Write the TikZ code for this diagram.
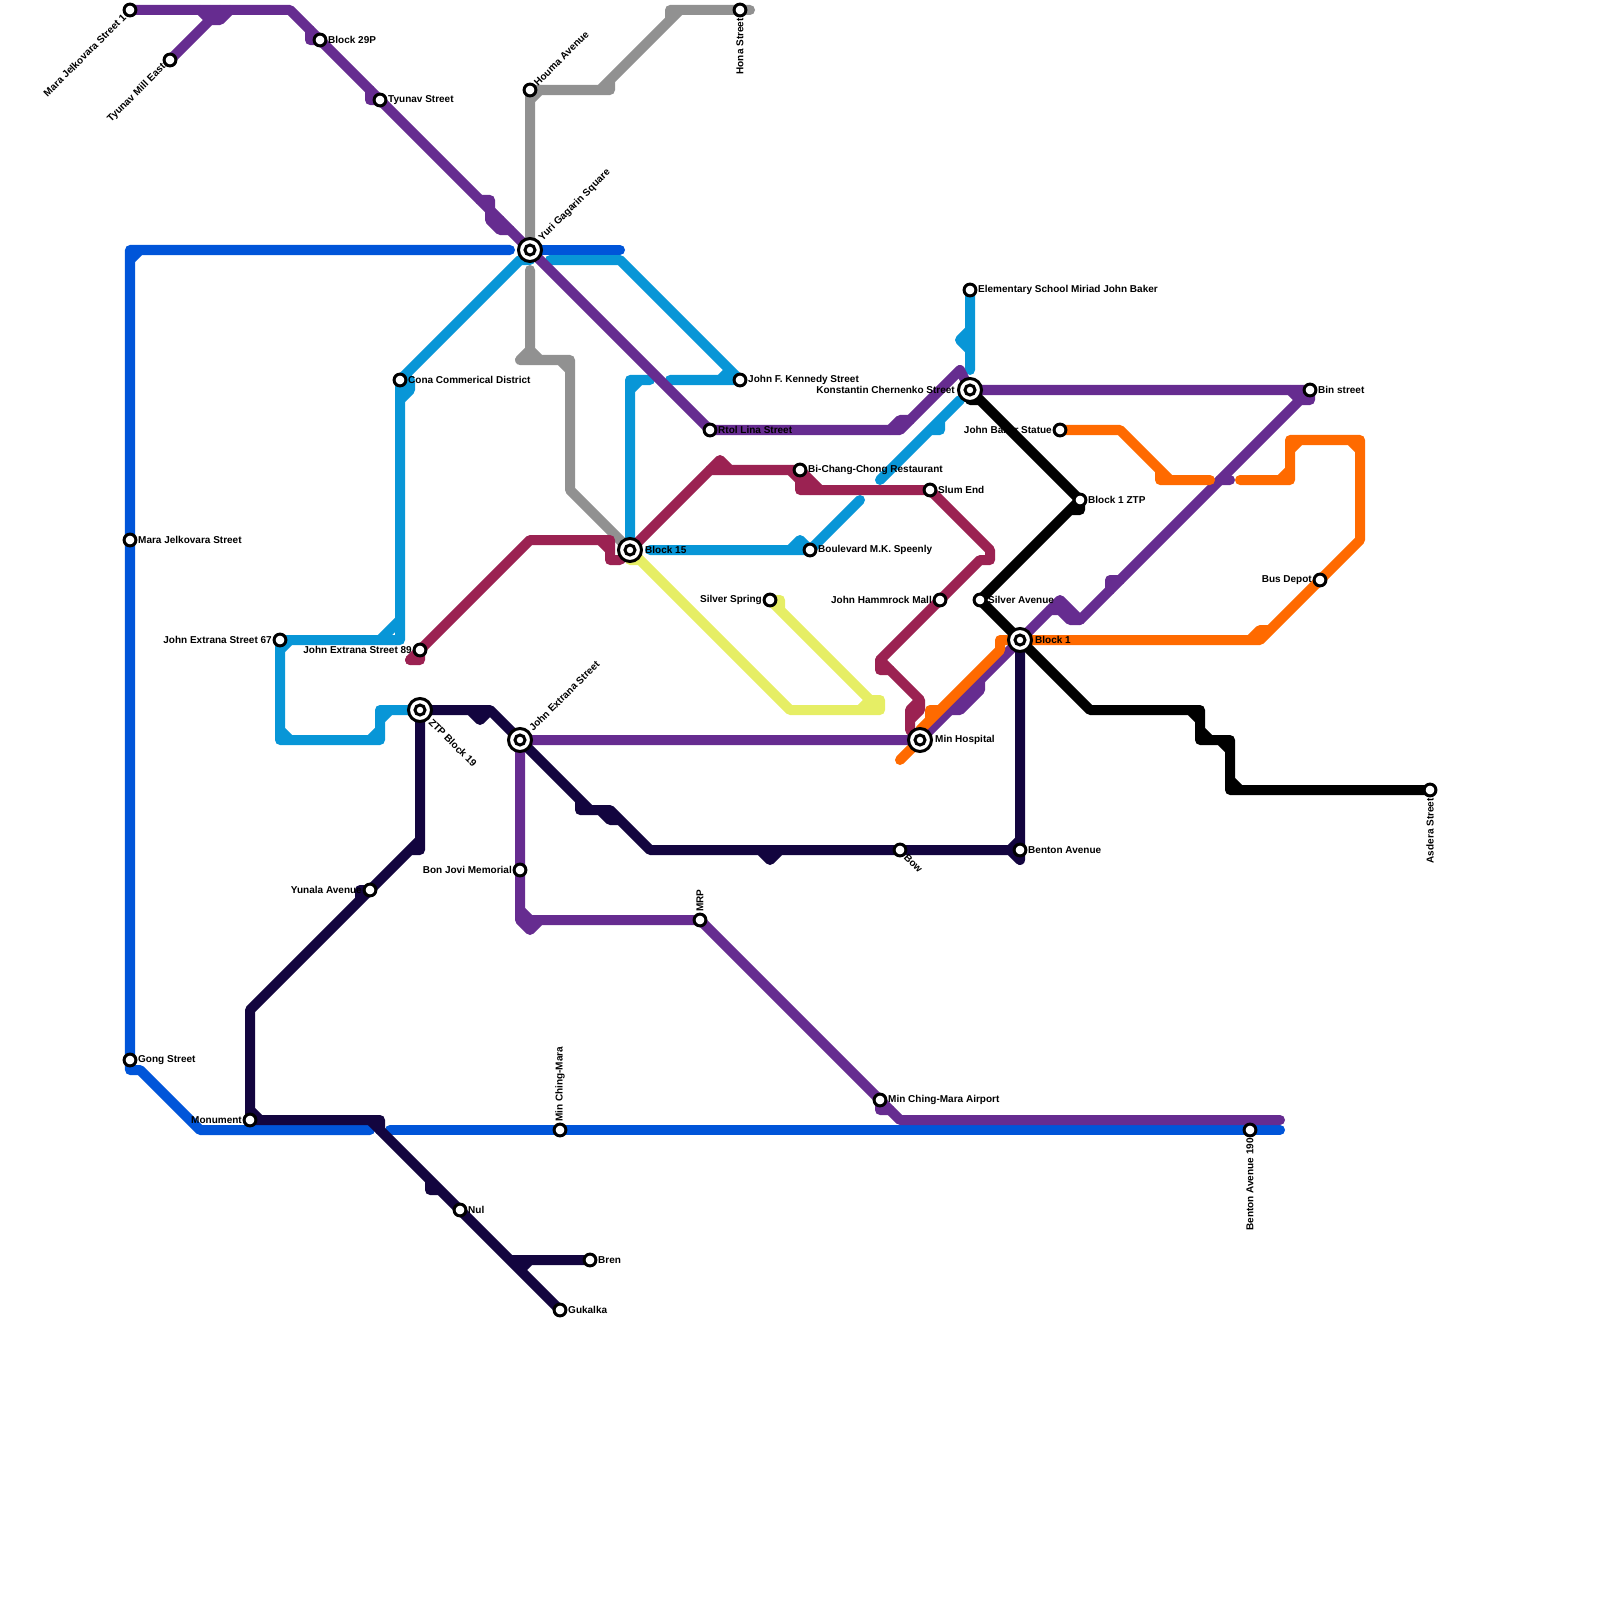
\documentclass[tikz,border=0pt]{standalone}
\usepackage{fontspec}
\setmainfont{Liberation Sans}
\usetikzlibrary{backgrounds}
\definecolor{metropurple}{HTML}{662C90}
\definecolor{metrocyan}{HTML}{0896D7}
\definecolor{metroblue}{HTML}{0055D9}
\definecolor{metronavy}{HTML}{13053F}
\definecolor{metrogrey}{HTML}{919191}
\definecolor{metromaroon}{HTML}{9B2252}
\definecolor{metroyellow}{HTML}{E6EE65}
\definecolor{metroorange}{HTML}{FF6A00}
\tikzset{
    route/.style = {line width=.1cm, line cap=round, line join=round},
    purpleline/.style = {route, draw=metropurple},
    cyanline/.style = {route, draw=metrocyan},
    blueline/.style = {route, draw=metroblue},
    navyline/.style = {route, draw=metronavy},
    greyline/.style = {route, draw=metrogrey},
    maroonline/.style = {route, draw=metromaroon},
    yellowline/.style = {route, draw=metroyellow},
    orangeline/.style = {route, draw=metroorange},
    blackline/.style = {route, draw=black},
    stop/.style = {circle, draw=black, fill=white, line width=.03cm, inner sep=0pt, outer sep=.016cm,
                   minimum size=.118cm},
    hub/.style = {circle, draw=black, fill=white, line width=.03cm, inner sep=0pt, outer sep=.03cm,
                  minimum size=.23cm,
                  path picture={\draw[line width=.03cm] (path picture bounding box.center) circle (.05cm);}},
    stopname/.style = {font=\fontsize{2.845pt}{3.4pt}\selectfont\bfseries, inner sep=0pt, text=black},
    up45/.style = {stopname, rotate=45, anchor=west},
    down45/.style = {stopname, rotate=-45, anchor=west},
    left45/.style = {stopname, rotate=45, anchor=east},
    upright/.style = {stopname, rotate=90, anchor=west},
    downright/.style = {stopname, rotate=90, anchor=east},
}
\begin{document}
\begin{tikzpicture}[x=.01cm, y=-.01cm]
\useasboundingbox (0,0) rectangle (1600,1600);

% Stations
\node (maraone) [stop, label={[left45]225:Mara Jelkovara Street 1}] at (130,10) {};
\node (tyunavmill) [stop, label={[left45]225:Tyunav Mill East}] at (170,60) {};
\node (block29) [stop, label={[stopname]right:Block 29P}] at (320,40) {};
\node (tyunav) [stop, label={[stopname]right:Tyunav Street}] at (380,100) {};
\node (houma) [stop, label={[up45]45:Houma Avenue}] at (530,90) {};
\node (gagarin) [hub, label={[up45]45:Yuri Gagarin Square}] at (530,250) {};
\node (hona) [stop, label={[downright]below:Hona Street}] at (740,10) {};
\node (kennedy) [stop, label={[stopname]right:John F. Kennedy Street}] at (740,380) {};
\node (rtol) [stop, label={[stopname]right:Rtol Lina Street}] at (710,430) {};
\node (cona) [stop, label={[stopname]right:Cona Commerical District}] at (400,380) {};
\node (mara) [stop, label={[stopname]right:Mara Jelkovara Street}] at (130,540) {};
\node (school) [stop, label={[stopname]right:Elementary School Miriad John Baker}] at (970,290) {};
\node (chernenko) [hub, label={[stopname]left:Konstantin Chernenko Street}] at (970,390) {};
\node (bin) [stop, label={[stopname]right:Bin street}] at (1310,390) {};
\node (statue) [stop, label={[stopname]left:John Baker Statue}] at (1060,430) {};
\node (ztpone) [stop, label={[stopname]right:Block 1 ZTP}] at (1080,500) {};
\node (bichang) [stop, label={[stopname]right:Bi-Chang-Chong Restaurant}] at (800,470) {};
\node (slum) [stop, label={[stopname]right:Slum End}] at (930,490) {};
\node (blockfifteen) [hub, label={[stopname]right:Block 15}] at (630,550) {};
\node (speenly) [stop, label={[stopname]right:Boulevard M.K. Speenly}] at (810,550) {};
\node (silverspring) [stop, label={[stopname]left:Silver Spring}] at (770,600) {};
\node (hammrock) [stop, label={[stopname]left:John Hammrock Mall}] at (940,600) {};
\node (silverave) [stop, label={[stopname]right:Silver Avenue}] at (980,600) {};
\node (blockone) [hub, label={[stopname]right:Block 1}] at (1020,640) {};
\node (depot) [stop, label={[stopname]left:Bus Depot}] at (1320,580) {};
\node (extrana67) [stop, label={[stopname]left:John Extrana Street 67}] at (280,640) {};
\node (extrana89) [stop, label={[stopname]left:John Extrana Street 89}] at (420,650) {};
\node (ztp19) [hub, label={[down45]-45:ZTP Block 19}] at (420,710) {};
\node (extrana) [hub, label={[up45]45:John Extrana Street}] at (520,740) {};
\node (hospital) [hub, label={[stopname]right:Min Hospital}] at (920,740) {};
\node (benton) [stop, label={[stopname]right:Benton Avenue}] at (1020,850) {};
\node (bow) [stop, label={[down45]-45:Bow}] at (900,850) {};
\node (asdera) [stop, label={[downright]below:Asdera Street}] at (1430,790) {};
\node (yunala) [stop, label={[stopname]left:Yunala Avenue}] at (370,890) {};
\node (bonjovi) [stop, label={[stopname]left:Bon Jovi Memorial}] at (520,870) {};
\node (mrp) [stop, label={[upright]above:MRP}] at (700,920) {};
\node (airport) [stop, label={[stopname]right:Min Ching-Mara Airport}] at (880,1100) {};
\node (gong) [stop, label={[stopname]right:Gong Street}] at (130,1060) {};
\node (monument) [stop, label={[stopname]left:Monument}] at (250,1120) {};
\node (minching) [stop, label={[upright]above:Min Ching-Mara}] at (560,1130) {};
\node (benton190) [stop, label={[downright]below:Benton Avenue 190}] at (1250,1130) {};
\node (nul) [stop, label={[stopname]right:Nul}] at (460,1210) {};
\node (bren) [stop, label={[stopname]right:Bren}] at (590,1260) {};
\node (gukalka) [stop, label={[stopname]right:Gukalka}] at (560,1310) {};

% Free line ends
\coordinate (bluenorth) at (510,250);
\coordinate (blueshort) at (620,250);
\coordinate (bluesouth) at (370,1130);
\coordinate (bluerun) at (390,1130);
\coordinate (blueeast) at (1280,1130);
\coordinate (purpleeast) at (1280,1120);
\coordinate (greytop) at (750,10);
\coordinate (greylow) at (530,270);
\coordinate (cyanupper) at (550,260);
\coordinate (cyanjfk) at (670,380);
\coordinate (cyanstem) at (650,380);
\coordinate (cyanbase) at (650,550);
\coordinate (cyanspeenly) at (860,500);
\coordinate (cyandiag) at (880,480);
\coordinate (cyandiagtop) at (960,400);
\coordinate (cyanschool) at (970,370);
\coordinate (orangetail) at (900,760);
\coordinate (orangeleft) at (1210,480);
\coordinate (orangeright) at (1240,480);

\begin{scope}[on background layer]
% Lines
\draw[greyline] (gagarin.center) -- (houma.center) -- (610,90) -- (610,80)
    (530,100) -- (540,90) (600,90) -- (670,20) -- (670,10) (680,10) -- (670,20)
    (670,10) -- (hona.center) -- (greytop);
\draw[greyline] (greylow) -- (530,350) -- (520,360) -- (570,360) -- (570,490) -- (blockfifteen.center)
    (530,350) -- (540,360) (560,360) -- (570,370);

\draw[cyanline] (extrana67.center) -- (400,640) -- (cona.center) -- (520,260) -- (530,260)
    (380,640) -- (400,620) (400,400) -- (410,390) -- (410,380) -- (400,380) (280,650) -- (290,640)
    (extrana67.center) -- (280,740) -- (380,740) -- (380,710) -- (ztp19.center)
    (280,730) -- (290,740) (370,740) -- (380,730) (380,720) -- (390,710);
\draw[cyanline] (cyanupper) -- (620,260) -- (kennedy.center) -- (cyanjfk) (720,380) -- (730,370);
\draw[cyanline] (cyanstem) -- (630,380) -- (blockfifteen.center) (630,390) -- (640,380);
\draw[cyanline] (cyanbase) -- (speenly.center) -- (cyanspeenly) (790,550) -- (800,540) -- (810,550);
\draw[cyanline] (cyandiag) -- (cyandiagtop) (930,430) -- (940,430) -- (940,420);
\draw[cyanline] (school.center) -- (cyanschool) (970,330) -- (960,340) -- (970,350);

\draw[blueline] (bluenorth) -- (130,250) -- (gong.center) -- (130,1070) -- (140,1070) -- (200,1130) -- (bluesouth)
    (130,260) -- (140,250);
\draw[blueline] (gagarin.center) -- (blueshort);
\draw[blueline] (bluerun) -- (blueeast);

\draw[purpleline] (maraone.center) -- (290,10) -- (block29.center) -- (tyunav.center) -- (rtol.center)
    -- (900,430) -- (960,370) -- (chernenko.center) -- (bin.center) -- (1310,400) -- (1300,400)
    -- (1080,620) -- (1060,600) -- (blockone.center) -- (hospital.center) -- (extrana.center)
    -- (520,920) -- (530,930) -- (540,920) -- (mrp.center) -- (airport.center) -- (900,1120) -- (purpleeast);
\draw[purpleline] (tyunavmill.center) -- (220,10) (200,10) -- (210,20) -- (220,20) -- (230,10)
    (310,30) -- (310,40) -- (320,40) (370,90) -- (370,100) -- (380,100)
    (480,200) -- (490,200) -- (490,220) -- (500,230) -- (510,230) (490,220) -- (500,220)
    (890,430) -- (900,420) -- (910,420) (1290,390) -- (1300,400)
    (1220,480) -- (1230,480) (1110,590) -- (1110,580) -- (1120,580)
    (950,710) -- (960,710) -- (980,690) -- (980,680) (520,910) -- (530,920) -- (540,920)
    (880,1100) -- (880,1110) -- (890,1110)
    (1050,610) -- (1060,610) -- (1070,620) -- (1080,620);

\draw[maroonline] (410,660) -- (420,660) -- (extrana89.center) -- (530,540) -- (610,540) -- (610,560) -- (620,560)
    -- (blockfifteen.center) -- (720,460) -- (730,470) -- (bichang.center) -- (800,490) -- (slum.center)
    -- (990,550) -- (990,560) -- (980,560) -- (hammrock.center) -- (880,660) -- (880,670) -- (890,670);
\draw[maroonline] (410,660) -- (extrana89.center) (600,540) -- (610,550) (710,470) -- (730,470)
    (790,470) -- (800,480) -- (810,490) (bichang.center) -- (820,490) (800,480) -- (810,480)
    (880,660) -- (920,700) -- (920,710) -- (910,720) (920,700) -- (910,710) -- (910,730) -- (hospital.center);

\draw[yellowline] (blockfifteen.center) -- (790,710) -- (880,710) -- (880,700) -- (870,700) -- (silverspring.center)
    -- (780,600) -- (780,610) (630,560) -- (640,560) (blockfifteen.center) -- (630,560) (860,710) -- (870,700);

\draw[navyline] (ztp19.center) -- (490,710) -- (extrana.center) -- (590,810) -- (610,810) -- (650,850)
    -- (bow.center) -- (benton.center) -- (blockone.center) (benton.center) -- (1020,860) -- (1010,850) -- (1020,840)
    (470,710) -- (480,720) -- (490,710) (580,800) -- (580,810) -- (600,810) -- (610,820) -- (620,820)
    (760,850) -- (770,860) -- (780,850);
\draw[navyline] (ztp19.center) -- (420,850) -- (410,850) -- (yunala.center) -- (250,1010) -- (monument.center)
    -- (380,1120) -- (380,1130) (250,1110) -- (260,1120) (360,900) -- (360,890) -- (370,890) (410,850) -- (420,840);
\draw[navyline] (370,1120) -- (nul.center) -- (gukalka.center) (430,1180) -- (430,1190) -- (440,1190)
    (510,1260) -- (bren.center) (520,1270) -- (530,1260);

\draw[blackline] (chernenko.center) -- (ztpone.center) -- (1080,510) -- (1070,510) -- (silverave.center)
    -- (blockone.center) -- (1090,710) -- (1200,710) -- (1200,740) -- (1230,740) -- (1230,790) -- (asdera.center)
    (chernenko.center) -- (970,400) -- (980,400) (ztpone.center) -- (1070,510)
    (1190,710) -- (1200,720) (1200,730) -- (1210,740) (1220,740) -- (1230,750) (1230,780) -- (1240,790);

\draw[orangeline] (blockone.center) -- (1000,640) -- (1000,650) -- (930,720) -- (920,730) -- (hospital.center) -- (orangetail)
    (930,720) -- (930,710) -- (940,710);
\draw[orangeline] (blockone.center) -- (1260,640) -- (depot.center) -- (1360,540) -- (1360,440) -- (1290,440)
    -- (1290,480) -- (orangeright) (1250,640) -- (1260,630) -- (1270,630)
    (1350,440) -- (1360,450) (1290,450) -- (1300,440) (1280,480) -- (1290,470);
\draw[orangeline] (statue.center) -- (1120,430) -- (1160,470) -- (1170,480) (1160,470) -- (1160,480) -- (orangeleft);
\end{scope}
\end{tikzpicture}
\end{document}
